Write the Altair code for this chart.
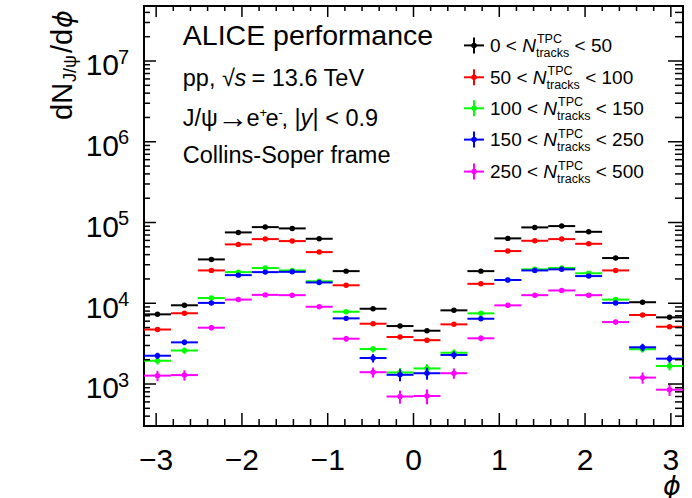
import math
import altair as alt
import pandas as pd

# ---------------------------------------------------------------- data
N_BINS = 20
phi_edges = [-math.pi + 2 * math.pi * i / N_BINS for i in range(N_BINS + 1)]

mult_low = ["0", "50", "100", "150", "250"]
mult_high = ["50", "100", "150", "250", "500"]
colors = ["#000000", "#ff0000", "#00ff00", "#0000ff", "#ff00ff"]

yield_0_50 = [7290, 9440, 34900, 75400, 87700, 84500, 62900, 25000, 8550, 5220,
              4570, 8170, 25000, 63600, 87000, 90300, 76700, 36300, 10300, 6690]
err_0_50 = [150, 170, 400, 650, 700, 700, 600, 350, 180, 140,
            130, 180, 350, 600, 700, 700, 650, 400, 190, 160]

yield_50_100 = [4730, 7520, 25500, 53600, 62300, 58900, 43000, 16700, 5580, 3820,
                3490, 5480, 17400, 44300, 59400, 62300, 54500, 25500, 7150, 5120]
err_50_100 = [140, 170, 350, 550, 600, 580, 500, 280, 160, 130,
              120, 160, 290, 510, 590, 600, 560, 350, 170, 150]

yield_100_150 = [1940, 2600, 11600, 24300, 27300, 25500, 18700, 7850, 2710, 1390,
                 1560, 2440, 7500, 19400, 26300, 27300, 23500, 11100, 2700, 1670]
err_100_150 = [200, 230, 520, 750, 800, 780, 660, 420, 250, 190,
               200, 240, 420, 670, 790, 800, 740, 500, 250, 200]

yield_150_250 = [2240, 3280, 10100, 22300, 24300, 24500, 18100, 6500, 2100, 1300,
                 1360, 2290, 6430, 19400, 25500, 26300, 21700, 10100, 2850, 2060]
err_150_250 = [200, 260, 500, 720, 760, 760, 650, 390, 250, 220,
               230, 250, 390, 670, 770, 790, 710, 500, 300, 220]

yield_250_500 = [1270, 1290, 4980, 11100, 12700, 12600, 9050, 3640, 1400, 700,
                 710, 1360, 3680, 9420, 12600, 14400, 12600, 5850, 1200, 850]
err_250_500 = [190, 190, 350, 550, 600, 600, 480, 300, 200, 130,
               150, 200, 300, 500, 600, 650, 600, 400, 190, 140]

series_yields = [yield_0_50, yield_50_100, yield_100_150, yield_150_250, yield_250_500]
series_errors = [err_0_50, err_50_100, err_100_150, err_150_250, err_250_500]

y_decades = [1e3, 1e4, 1e5, 1e6, 1e7]
y_exponents = ["3", "4", "5", "6", "7"]
x_major = [-3, -2, -1, 0, 1, 2, 3]
x_labels = ["\u22123", "\u22122", "\u22121", "0", "1", "2", "3"]

# ---------------------------------------------------------------- layout
W, H = 539, 420
FONT = "Liberation Sans"
GREEK = "DejaVu Sans"
PHI = "\u03d5"
xscale = alt.Scale(domain=[-math.pi, math.pi], nice=False, zero=False)
yscale = alt.Scale(type="log", domain=[302, 4.8e7], nice=False)

# Helvetica/Arial advance widths (em) for legend layout
ADV = {c: 0.556 for c in "0123456789"}
ADV.update({" ": 0.278, "<": 0.584, "N": 0.722, "t": 0.278, "r": 0.333,
            "a": 0.556, "c": 0.5, "k": 0.5, "s": 0.5})


def tw(s, size):
    return sum(ADV.get(ch, 0.556) for ch in s) * size


def one():
    return alt.Chart(pd.DataFrame({"k": [0]}))


def note(text, x, y, size, italic=False, align="left", angle=0, font=FONT):
    kw = dict(text=text, font=font, fontSize=size, align=align,
              baseline="alphabetic", color="black")
    if italic:
        kw["fontStyle"] = "italic"
    if angle:
        kw["angle"] = angle
    return one().mark_text(**kw).encode(x=alt.value(x), y=alt.value(y))


layers = []

# ---------------------------------------------------------------- data points
for yv, ev, col in zip(series_yields, series_errors, colors):
    df = pd.DataFrame({
        "lo": phi_edges[:-1],
        "hi": phi_edges[1:],
        "phi": [(a + b) / 2 for a, b in zip(phi_edges[:-1], phi_edges[1:])],
        "val": yv,
        "down": [v - e for v, e in zip(yv, ev)],
        "up": [v + e for v, e in zip(yv, ev)],
    })
    base = alt.Chart(df)
    layers.append(base.mark_rule(color=col, strokeWidth=2).encode(
        x=alt.X("lo:Q", scale=xscale, axis=None), x2="hi:Q",
        y=alt.Y("val:Q", scale=yscale, axis=None)))
    layers.append(base.mark_rule(color=col, strokeWidth=2).encode(
        x=alt.X("phi:Q", scale=xscale, axis=None),
        y=alt.Y("down:Q", scale=yscale, axis=None), y2="up:Q"))
    layers.append(base.mark_circle(color=col, size=30, opacity=1).encode(
        x=alt.X("phi:Q", scale=xscale, axis=None),
        y=alt.Y("val:Q", scale=yscale, axis=None)))

# ---------------------------------------------------------------- ticks (inside the frame)
x_minor = [round(-3 + 0.2 * i, 1) for i in range(31) if i % 5 != 0]
y_minor = [m * 10 ** e for e in range(2, 8) for m in range(2, 10)
           if 302 < m * 10 ** e < 4.8e7]

xmaj = alt.Chart(pd.DataFrame({"v": x_major}))
xmin = alt.Chart(pd.DataFrame({"v": x_minor}))
ymaj = alt.Chart(pd.DataFrame({"v": y_decades, "e": y_exponents}))
ymin = alt.Chart(pd.DataFrame({"v": y_minor}))
tick_style = dict(color="black", strokeWidth=1.5)

for src, length in ((xmaj, 13), (xmin, 7)):
    xe = alt.X("v:Q", scale=xscale, axis=None)
    layers.append(src.mark_rule(**tick_style).encode(x=xe, y=alt.value(H), y2=alt.value(H - length)))
    layers.append(src.mark_rule(**tick_style).encode(x=xe, y=alt.value(0), y2=alt.value(length - 2)))
for src, length_l, length_r in ((ymaj, 12, 15), (ymin, 6, 8)):
    ye = alt.Y("v:Q", scale=yscale, axis=None)
    layers.append(src.mark_rule(**tick_style).encode(y=ye, x=alt.value(0), x2=alt.value(length_l)))
    layers.append(src.mark_rule(**tick_style).encode(y=ye, x=alt.value(W), x2=alt.value(W - length_r)))

# ---------------------------------------------------------------- tick labels
layers.append(ymaj.mark_text(text="10", font=FONT, fontSize=30, align="right",
                             baseline="alphabetic", dy=14.3, color="black").encode(
    y=alt.Y("v:Q", scale=yscale, axis=None), x=alt.value(-25)))
layers.append(ymaj.mark_text(font=FONT, fontSize=20, align="left",
                             baseline="alphabetic", dy=2.5, color="black").encode(
    y=alt.Y("v:Q", scale=yscale, axis=None), x=alt.value(-26), text="e:N"))
layers.append(alt.Chart(pd.DataFrame({"v": x_major, "lab": x_labels})).mark_text(
    font=FONT, fontSize=30, align="center", baseline="alphabetic", color="black").encode(
    x=alt.X("v:Q", scale=xscale, axis=None), y=alt.value(H + 44), text="lab:N"))

# ---------------------------------------------------------------- axis titles
layers.append(note(PHI, 528, H + 69, 27, italic=True, align="center", font=GREEK))
layers.append(note("dN", -71.7, 114, 29, angle=270))
layers.append(note("J/\u03c8", -68, 76, 18, angle=270))
layers.append(note("/d", -71.7, 47, 29, angle=270))
layers.append(note(PHI, -71.7, 22, 27, italic=True, angle=270, font=GREEK))

# ---------------------------------------------------------------- text block
layers.append(note("ALICE performance", 38.8, 39.4, 28.5))
layers.append(note("pp, \u221a", 38.8, 79.8, 23.5))
layers.append(note("s", 90.5, 79.8, 23.5, italic=True))
layers.append(note("= 13.6 TeV", 107.5, 79.8, 23.5))
layers.append(note("J/\u03c8", 38.8, 120.3, 23.5))
layers.append(note("\u2192", 73.5, 121.5, 31))
layers.append(note("e", 102.5, 120.3, 23.5))
layers.append(note("+", 115.5, 111, 13))
layers.append(note("e", 121.5, 120.3, 23.5))
layers.append(note("-", 134.5, 111, 13))
layers.append(note(", |", 137.5, 120.3, 23.5))
layers.append(note("y", 156.5, 120.3, 23.5, italic=True))
layers.append(note("| < 0.9", 168.5, 120.3, 23.5))
layers.append(note("Collins-Soper frame", 38.8, 157.4, 23.5))

# ---------------------------------------------------------------- legend
row_y = [39.4, 71.3, 102.3, 133.6, 165.6]
LX, TX, FS, SS = 330, 346, 19, 12.5
for cy, lo, hi, col in zip(row_y, mult_low, mult_high, colors):
    layers.append(one().mark_rule(color=col, strokeWidth=2).encode(
        x=alt.value(LX - 10), x2=alt.value(LX + 10), y=alt.value(cy)))
    layers.append(one().mark_rule(color=col, strokeWidth=2).encode(
        x=alt.value(LX), y=alt.value(cy - 8), y2=alt.value(cy + 8)))
    layers.append(one().mark_circle(color=col, size=30, opacity=1).encode(
        x=alt.value(LX), y=alt.value(cy)))
    base_y = cy + 6.5
    left = f"{lo} < "
    xn = TX + tw(left, FS)
    xs = xn + tw("N", FS)
    xr = xs + tw("tracks", SS) + tw(" ", FS)
    layers.append(note(left.strip(), TX, base_y, FS))
    layers.append(note("N", xn, base_y, FS, italic=True))
    layers.append(note("TPC", xs + 1, base_y - 8.5, SS))
    layers.append(note("tracks", xs, base_y + 5, SS))
    layers.append(note(f"< {hi}", xr, base_y, FS))

chart = alt.layer(*layers).properties(
    width=W, height=H,
    autosize=alt.AutoSizeParams(type="none"),
    padding={"left": 144, "top": 6, "right": 9, "bottom": 72},
    background="white",
).configure_view(stroke="black", strokeWidth=2)

chart.save("out.html", embed_options={"renderer": "svg", "actions": False})
